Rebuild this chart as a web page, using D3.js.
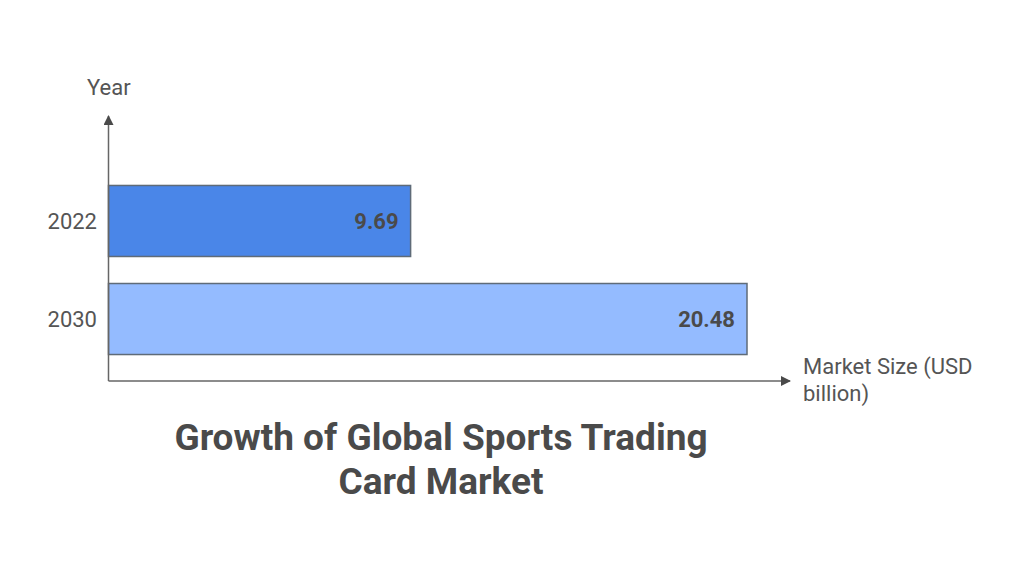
<!DOCTYPE html>
<html lang="en">
  <head>
    <meta charset="utf-8">
    <title>Growth of Global Sports Trading Card Market</title>
    <script type="text/javascript" src="https://d3js.org/d3.v7.min.js"></script>
    <style>
      html, body { margin: 0; padding: 0; background: #fff; }
      text { font-family: Roboto, sans-serif; fill: #555; }
      text.value, text.title { fill: #4a4a4a; }
    </style>
  </head>
  <body>
    <div class="chart-container"></div>
    <script type="text/javascript">
      var years = ["2022", "2030"];
      var marketSize = [9.69, 20.48];
      var barColors = ["#4a86e8", "#94bbff"];
      var titleLines = ["Growth of Global Sports Trading", "Card Market"];
      var xLabelLines = ["Market Size (USD", "billion)"];

      var svgW = 1024;
      var svgH = 576;
      var axisX = 108.5;
      var axisY = 381;

      var svg = d3.select(".chart-container")
        .append("svg")
        .attr("width", svgW)
        .attr("height", svgH)
        .style("display", "block");

      // 20.48 ends at x=747
      var x = d3.scaleLinear().domain([0, 20.48]).range([axisX, 747]);
      var y = d3.scaleBand().domain(years).range([159, 381]).paddingInner(0.2755).paddingOuter(0.27);

      var defs = svg.append("defs");
      defs.append("marker")
        .attr("id", "arrow")
        .attr("viewBox", "0 0 10 10")
        .attr("refX", 9)
        .attr("refY", 5)
        .attr("markerWidth", 10)
        .attr("markerHeight", 10)
        .attr("markerUnits", "userSpaceOnUse")
        .attr("orient", "auto")
        .append("path")
        .attr("d", "M0,0L10,5L0,10Z")
        .attr("fill", "#4a4a4a");

      // bars
      svg.selectAll("rect.bar")
        .data(years)
        .enter().append("rect")
        .attr("class", "bar")
        .attr("x", axisX)
        .attr("y", function(d) { return y(d); })
        .attr("width", function(d, i) { return x(marketSize[i]) - axisX; })
        .attr("height", y.bandwidth())
        .attr("fill", function(d, i) { return barColors[i]; })
        .attr("stroke", "#5f6b78")
        .attr("stroke-width", 1.5);

      // values
      svg.selectAll("text.value")
        .data(years)
        .enter().append("text")
        .attr("class", "value")
        .attr("x", function(d, i) { return x(marketSize[i]) - 12; })
        .attr("y", function(d) { return y(d) + y.bandwidth() / 2; })
        .attr("dy", "0.36em")
        .attr("text-anchor", "end")
        .attr("font-size", 22)
        .attr("font-weight", 700)
        .text(function(d, i) { return marketSize[i].toFixed(2); });

      // category labels
      svg.selectAll("text.year")
        .data(years)
        .enter().append("text")
        .attr("class", "year")
        .attr("x", 97)
        .attr("y", function(d) { return y(d) + y.bandwidth() / 2; })
        .attr("dy", "0.36em")
        .attr("text-anchor", "end")
        .attr("font-size", 22)
        .text(function(d) { return d; });

      // axes
      svg.append("line")
        .attr("x1", axisX).attr("y1", axisY)
        .attr("x2", axisX).attr("y2", 116)
        .attr("stroke", "#666").attr("stroke-width", 1.5)
        .attr("marker-end", "url(#arrow)");
      svg.append("line")
        .attr("x1", axisX).attr("y1", axisY)
        .attr("x2", 790).attr("y2", axisY)
        .attr("stroke", "#666").attr("stroke-width", 1.5)
        .attr("marker-end", "url(#arrow)");

      svg.append("text")
        .attr("x", 87)
        .attr("y", 95)
        .attr("font-size", 22)
        .text("Year");

      svg.selectAll("text.xlabel")
        .data(xLabelLines)
        .enter().append("text")
        .attr("class", "xlabel")
        .attr("x", 803)
        .attr("y", function(d, i) { return 374 + i * 27; })
        .attr("font-size", 22)
        .text(function(d) { return d; });

      svg.selectAll("text.title")
        .data(titleLines)
        .enter().append("text")
        .attr("class", "title")
        .attr("x", 441)
        .attr("y", function(d, i) { return 450 + i * 44; })
        .attr("text-anchor", "middle")
        .attr("font-size", 37)
        .attr("font-weight", 700)
        .text(function(d) { return d; });
    </script>
  </body>
</html>
